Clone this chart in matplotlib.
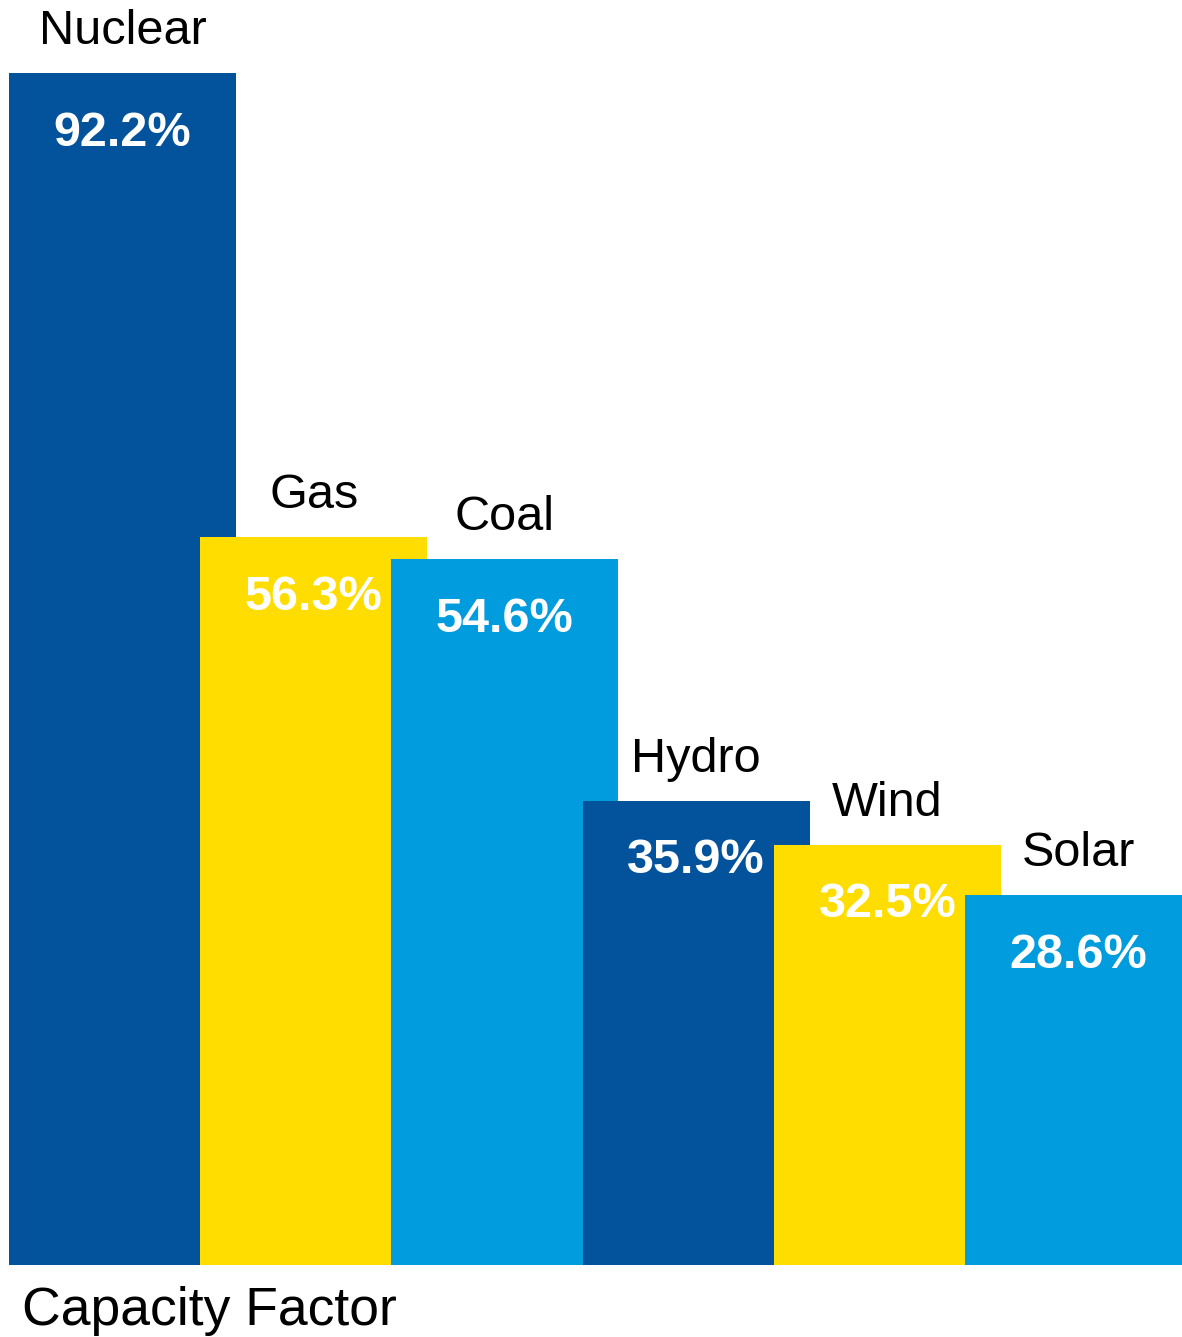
import matplotlib
matplotlib.use("Agg")
import matplotlib.pyplot as plt

categories = ["Nuclear", "Gas", "Coal", "Hydro", "Wind", "Solar"]
values = [92.2, 56.3, 54.6, 35.9, 32.5, 28.6]
value_labels = ["92.2%", "56.3%", "54.6%", "35.9%", "32.5%", "28.6%"]
colors = ["#02529C", "#FFDD00", "#009CDE", "#02529C", "#FFDD00", "#009CDE"]

plt.rcParams['font.family'] = ['Liberation Sans', 'DejaVu Sans']

W, H = 1182, 1337
fig = plt.figure(figsize=(W / 100, H / 100), dpi=100)
bottom_px = 1265
ax = fig.add_axes([0, (H - bottom_px) / H, 1, bottom_px / H])
ax.set_axis_off()

spacing = 191.2
first_center = 122.5
ax.set_xlim(-first_center / spacing, (W - first_center) / spacing)
px_per_unit = (bottom_px - 73) / 92.2
ax.set_ylim(0, bottom_px / px_per_unit)

width = 227 / spacing
for i, (cat, v, lab, c) in enumerate(zip(categories, values, value_labels, colors)):
    ax.bar(i, v, width=width, color=c, zorder=i + 1, linewidth=0)
    ax.annotate(cat, (i, v), xytext=(0, 29), textcoords='offset pixels',
                ha='center', va='baseline', fontsize=35, color='black', zorder=20)
    ax.annotate(lab, (i, v), xytext=(0, -60), textcoords='offset pixels',
                ha='center', va='center', fontsize=35, fontweight='bold',
                color='white', zorder=20)

fig.text(22 / W, 1 - 1325 / H, "Capacity Factor", ha='left', va='baseline',
         fontsize=38.5, color='black')

fig.savefig("out.png", dpi=100)
